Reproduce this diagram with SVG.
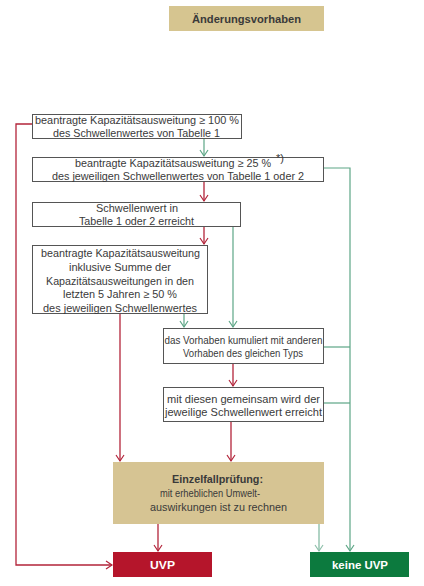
<svg xmlns="http://www.w3.org/2000/svg" width="424" height="586" viewBox="0 0 424 586">
<style>
.box{fill:#fff;stroke:#555;stroke-width:1}
.t{font-family:"Liberation Sans",Arial,sans-serif;font-size:11px;fill:#3a3a3a;text-anchor:middle}
.b{font-weight:bold}
.w{fill:#fff;font-weight:bold;font-size:11px}
.red{fill:none;stroke:#b3243a;stroke-width:1.3}
.grn{fill:none;stroke:#5da686;stroke-width:1.2}
.lgrn{fill:none;stroke:#8fc0ab;stroke-width:1.4}
</style>
<defs>
<marker id="ar" markerWidth="10" markerHeight="10" refX="8" refY="5" orient="auto" markerUnits="userSpaceOnUse"><path d="M2,1 L8,5 L2,9" fill="none" stroke="#b3243a" stroke-width="1.2"/></marker>
<marker id="ag" markerWidth="10" markerHeight="10" refX="8" refY="5" orient="auto" markerUnits="userSpaceOnUse"><path d="M2,1 L8,5 L2,9" fill="none" stroke="#5da686" stroke-width="1.2"/></marker>
<marker id="alg" markerWidth="10" markerHeight="10" refX="8" refY="5" orient="auto" markerUnits="userSpaceOnUse"><path d="M2,1 L8,5 L2,9" fill="none" stroke="#8fc0ab" stroke-width="1.2"/></marker>
</defs>
<rect width="424" height="586" fill="#fff"/>
<g id="connectors">
<path class="red" d="M32,124 H16 V565 H112" marker-end="url(#ar)"/>
<path class="grn" d="M204,138 V156" marker-end="url(#ag)"/>
<path class="grn" d="M324,168 H350 V551" marker-end="url(#ag)"/>
<path class="red" d="M204,181 V201" marker-end="url(#ar)"/>
<path class="red" d="M204,227 V244" marker-end="url(#ar)"/>
<path class="grn" d="M233,227 V327" marker-end="url(#ag)"/>
<path class="grn" d="M184,314 V327" marker-end="url(#ag)"/>
<path class="red" d="M120,314 V461" marker-end="url(#ar)"/>
<path class="grn" d="M324,347 H350"/>
<path class="red" d="M233,364 V386" marker-end="url(#ar)"/>
<path class="grn" d="M324,403 H350"/>
<path class="red" d="M231,422 V461" marker-end="url(#ar)"/>
<path class="red" d="M158,524 V551" marker-end="url(#ar)"/>
<path class="lgrn" d="M319,524 V551" marker-end="url(#alg)"/>
</g>
<g id="title">
<rect x="169" y="6" width="155" height="25" fill="#d6c590"/>
<text class="t b" x="246.5" y="23" font-size="11.5" fill="#1a1a1a" textLength="109" lengthAdjust="spacingAndGlyphs">Änderungsvorhaben</text>
</g>
<g id="n1">
<rect class="box" x="32.5" y="114.5" width="209" height="24"/>
<text class="t" x="137" y="124" textLength="204" lengthAdjust="spacingAndGlyphs">beantragte Kapazitätsausweitung  ≥ 100 %</text>
<text class="t" x="136.5" y="137" textLength="167" lengthAdjust="spacingAndGlyphs">des Schwellenwertes von Tabelle 1</text>
</g>
<g id="n2">
<rect class="box" x="32.5" y="157.5" width="291" height="24"/>
<text class="t" x="173" y="167" textLength="196" lengthAdjust="spacingAndGlyphs">beantragte Kapazitätsausweitung ≥ 25 %</text>
<text class="t" x="280" y="162" font-size="6.5">*)</text>
<text class="t" x="178" y="180" textLength="252" lengthAdjust="spacingAndGlyphs">des jeweiligen Schwellenwertes von Tabelle 1 oder 2</text>
</g>
<g id="n3">
<rect class="box" x="32.5" y="202.5" width="208" height="24"/>
<text class="t" x="137" y="212" textLength="82" lengthAdjust="spacingAndGlyphs">Schwellenwert in</text>
<text class="t" x="136.5" y="225" textLength="115" lengthAdjust="spacingAndGlyphs">Tabelle 1 oder 2 erreicht</text>
</g>
<g id="n4">
<rect class="box" x="32.5" y="245.5" width="175" height="68"/>
<text class="t" x="120.5" y="257" textLength="159" lengthAdjust="spacingAndGlyphs">beantragte Kapazitätsausweitung</text>
<text class="t" x="120" y="271" textLength="102" lengthAdjust="spacingAndGlyphs">inklusive Summe der</text>
<text class="t" x="120" y="285" textLength="148" lengthAdjust="spacingAndGlyphs">Kapazitätsausweitungen in den</text>
<text class="t" x="120" y="298" textLength="114" lengthAdjust="spacingAndGlyphs">letzten 5 Jahren ≥ 50 %</text>
<text class="t" x="120" y="312" textLength="154" lengthAdjust="spacingAndGlyphs">des jeweiligen Schwellenwertes</text>
</g>
<g id="n5">
<rect class="box" x="163.5" y="328.5" width="160" height="35"/>
<text class="t" x="243.5" y="344" textLength="158" lengthAdjust="spacingAndGlyphs">das Vorhaben kumuliert mit anderen</text>
<text class="t" x="243" y="357" textLength="120" lengthAdjust="spacingAndGlyphs">Vorhaben des gleichen Typs</text>
</g>
<g id="n6">
<rect class="box" x="163.5" y="387.5" width="160" height="34"/>
<text class="t" x="243.5" y="403" textLength="153" lengthAdjust="spacingAndGlyphs">mit diesen gemeinsam wird der</text>
<text class="t" x="243.5" y="416" textLength="157" lengthAdjust="spacingAndGlyphs">jeweilige Schwellenwert erreicht</text>
</g>
<g id="n7">
<rect x="113" y="462" width="211" height="62" fill="#d6c493"/>
<text class="t b" x="217.5" y="483" fill="#1a1a1a" textLength="91" lengthAdjust="spacingAndGlyphs">Einzelfallprüfung:</text>
<text class="t" x="210" y="497" textLength="100" lengthAdjust="spacingAndGlyphs">mit erheblichen Umwelt-</text>
<text class="t" x="218.5" y="511" textLength="137" lengthAdjust="spacingAndGlyphs">auswirkungen ist zu rechnen</text>
</g>
<g id="uvp">
<rect x="113" y="552" width="99" height="25" fill="#b5152b"/>
<text class="t w" x="162.5" y="569" textLength="25" lengthAdjust="spacingAndGlyphs">UVP</text>
</g>
<g id="keine">
<rect x="310" y="552" width="99" height="25" fill="#0c7a3e"/>
<text class="t w" x="360" y="569" textLength="56" lengthAdjust="spacingAndGlyphs">keine UVP</text>
</g>
</svg>
